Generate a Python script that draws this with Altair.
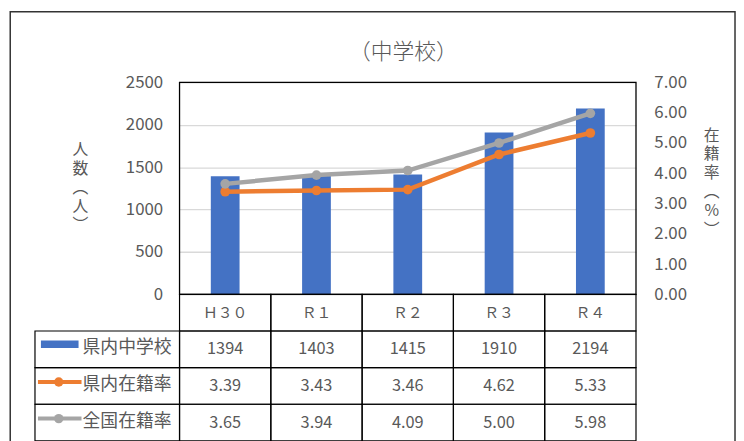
import altair as alt
import pandas as pd

# ---- data ----
categories = ["Ｈ３０", "Ｒ１", "Ｒ２", "Ｒ３", "Ｒ４"]
students = [1394, 1403, 1415, 1910, 2194]
pref_rate = [3.39, 3.43, 3.46, 4.62, 5.33]
nat_rate = [3.65, 3.94, 4.09, 5.00, 5.98]
series_names = ["県内中学校", "県内在籍率", "全国在籍率"]
series_colors = ["#4472C4", "#ED7D31", "#A5A5A5"]
left_ticks = [0, 500, 1000, 1500, 2000, 2500]
right_ticks = [0, 1, 2, 3, 4, 5, 6, 7]
title_text = "（中学校）"
left_title = ["人", "数", "︵", "人", "︶"]
right_title = ["在", "籍", "率", "︵", "%", "︶"]
row_keys = ["_cat"] + series_names

FONT = "Noto Sans CJK JP"
TXT = "#595959"
PW, PH = 461, 214      # plot area
LW = 146               # legend column width
TH = 148               # table height

bar_df = pd.DataFrame({"cat": categories, "students": students})
rate_df = pd.DataFrame({
    "cat": categories * 2,
    "series": [series_names[1]] * len(categories) + [series_names[2]] * len(categories),
    "rate": pref_rate + nat_rate,
})
one = pd.DataFrame({"k": [0]})

recs = []
for i, c in enumerate(categories):
    recs.append({"row": "_cat", "cat": c, "label": c, "kind": "cat"})
    recs.append({"row": series_names[0], "cat": c, "label": str(students[i]), "kind": "val"})
    recs.append({"row": series_names[1], "cat": c, "label": f"{pref_rate[i]:.2f}", "kind": "val"})
    recs.append({"row": series_names[2], "cat": c, "label": f"{nat_rate[i]:.2f}", "kind": "val"})
table_df = pd.DataFrame(recs)
leg_df = pd.DataFrame({"row": series_names, "color": series_colors})

# ---- top plot ----
xscale = alt.Scale(domain=categories, paddingInner=0.685, paddingOuter=0.3425)
x = alt.X("cat:N", scale=xscale, axis=None)

bars = alt.Chart(bar_df).mark_bar(color=series_colors[0]).encode(
    x=x,
    y=alt.Y("students:Q", scale=alt.Scale(domain=[0, 2500], nice=False),
            axis=alt.Axis(values=left_ticks, format="d", grid=True, gridColor="#D9D9D9",
                          gridWidth=1.3, domain=False, ticks=False, tickSize=0, labelPadding=17,
                          labelFontSize=17, labelColor=TXT, labelFont=FONT,
                          title=left_title, titleAngle=0, titleX=-100.7, titleY=68,
                          titleAlign="center", titleBaseline="middle",
                          titleFontSize=16, titleFontWeight="normal", titleColor=TXT,
                          titleFont=FONT, titleLineHeight=19)),
)

yr = alt.Y("rate:Q", scale=alt.Scale(domain=[0, 7], nice=False),
           axis=alt.Axis(orient="right", values=right_ticks, format=".2f", grid=False,
                         domain=False, ticks=False, tickSize=0, labelPadding=18,
                         labelFontSize=17, labelColor=TXT, labelFont=FONT,
                         title=right_title, titleAngle=0, titleX=76, titleY=53.3,
                         titleAlign="center", titleBaseline="middle",
                         titleFontSize=16, titleFontWeight="normal", titleColor=TXT,
                         titleFont=FONT, titleLineHeight=19))
color = alt.Color("series:N", scale=alt.Scale(domain=series_names[1:], range=series_colors[1:]),
                  legend=None)
lines = alt.Chart(rate_df).mark_line(strokeWidth=4.5).encode(x=x, y=yr, color=color)
points = alt.Chart(rate_df).mark_circle(size=95, opacity=1).encode(x=x, y=yr, color=color)
rates = alt.layer(lines, points)

frame = alt.Chart(one).mark_rect(filled=False, color="#000000", strokeWidth=1.3).encode(
    x=alt.value(0), x2=alt.value("width"), y=alt.value(0), y2=alt.value("height"))

top = alt.layer(bars, rates, frame).resolve_scale(y="independent").properties(
    width=PW, height=PH,
    title=alt.TitleParams(title_text, fontSize=22, color=TXT, font=FONT, fontWeight=300,
                          anchor="middle", frame="group", baseline="middle", offset=0, dx=-4.5),
)

# ---- data table ----
tx = alt.X("cat:N", scale=alt.Scale(domain=categories, paddingInner=0, paddingOuter=0), axis=None)
ty = alt.Y("row:N", scale=alt.Scale(domain=row_keys, paddingInner=0, paddingOuter=0), axis=None)
tbase = alt.Chart(table_df)
cells = tbase.mark_rect(filled=False, color="#000000", strokeWidth=1.2).encode(x=tx, y=ty)
cat_text = tbase.mark_text(fontSize=15, color=TXT, font=FONT, baseline="middle").encode(
    x=tx, y=ty, text="label:N").transform_filter(alt.datum.kind == "cat")
val_text = tbase.mark_text(fontSize=16.5, color=TXT, font=FONT, baseline="middle").encode(
    x=tx, y=ty, text="label:N").transform_filter(alt.datum.kind == "val")
table = alt.layer(cells, cat_text, val_text).properties(width=PW, height=TH)

# ---- legend column ----
ly = alt.Y("row:N", scale=alt.Scale(domain=row_keys, paddingInner=0, paddingOuter=0), axis=None)
lcol = alt.Color("color:N", scale=None)
lbase = alt.Chart(leg_df)
leg_cells = lbase.mark_rect(filled=False, color="#000000", strokeWidth=1.2).encode(
    x=alt.value(0), x2=alt.value("width"), y=ly)
leg_text = lbase.mark_text(align="left", baseline="middle", fontSize=18, color=TXT, font=FONT,
                           dy=-1).encode(x=alt.value(48), y=ly, text="row:N")
bar_sw = lbase.mark_rule(strokeWidth=7.6, yOffset=-5, strokeCap="butt").encode(
    x=alt.value(6), x2=alt.value(44), y=ly, color=lcol).transform_filter(
    alt.datum.row == series_names[0])
line_sw = lbase.mark_rule(strokeWidth=4, yOffset=-4).encode(
    x=alt.value(3), x2=alt.value(47), y=ly, color=lcol).transform_filter(
    alt.datum.row != series_names[0])
dot_sw = lbase.mark_circle(size=90, opacity=1, yOffset=-4).encode(
    x=alt.value(24), y=ly, color=lcol).transform_filter(alt.datum.row != series_names[0])
legend = alt.layer(leg_cells, leg_text, bar_sw, line_sw, dot_sw).properties(width=LW, height=TH)

# ---- corner cell with outer chart frame ----
outer = alt.Chart(one).mark_rect(filled=False, color="#333333", strokeWidth=1.5).encode(
    x=alt.value(-25), x2=alt.value(707), y=alt.value(-71.5), y2=alt.value(366)
).properties(width=LW, height=PH)

chart = alt.concat(outer, top, legend, table, columns=2, spacing=0, bounds="flush",
                   align="each").properties(
    padding={"left": 1.25, "top": 0, "right": 0, "bottom": 0}, background="white"
).configure(font=FONT).configure_view(strokeWidth=0, stroke="transparent")

chart.save("out.html", embed_options={"renderer": "svg", "actions": False})
